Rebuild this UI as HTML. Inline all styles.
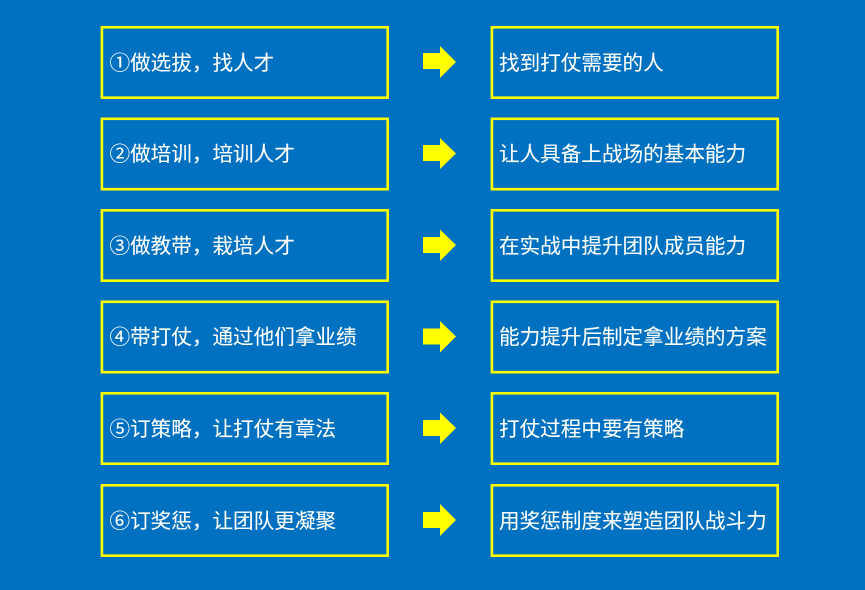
<!DOCTYPE html>
<html lang="zh">
<head>
<meta charset="utf-8">
<style>
html,body{margin:0;padding:0;width:865px;height:590px;overflow:hidden;background:#0070c0;}
.b{position:absolute;box-sizing:border-box;width:289px;height:73px;}
.t{position:absolute;left:9px;top:4px;height:67px;line-height:67px;white-space:nowrap;color:#fff;font-size:20.6px;-webkit-text-stroke:0.1px #fff;font-family:"Liberation Sans","Microsoft YaHei","Noto Sans CJK SC",sans-serif;}
.l{left:100px}.r{left:490px}
.l .t{left:9.5px}
svg{position:absolute;left:0;top:0}
</style>
</head>
<body>
<svg width="865" height="590" viewBox="0 0 865 590">
<g fill="none" stroke="#ffff00" stroke-width="2.6">
<rect x="101.9" y="27.3" width="285.8" height="70.4"/>
<rect x="491.9" y="27.3" width="285.8" height="70.4"/>
<rect x="101.9" y="118.8" width="285.8" height="70.4"/>
<rect x="491.9" y="118.8" width="285.8" height="70.4"/>
<rect x="101.9" y="210.3" width="285.8" height="70.4"/>
<rect x="491.9" y="210.3" width="285.8" height="70.4"/>
<rect x="101.9" y="301.8" width="285.8" height="70.4"/>
<rect x="491.9" y="301.8" width="285.8" height="70.4"/>
<rect x="101.9" y="393.3" width="285.8" height="70.4"/>
<rect x="491.9" y="393.3" width="285.8" height="70.4"/>
<rect x="101.9" y="485.3" width="285.8" height="70.4"/>
<rect x="491.9" y="485.3" width="285.8" height="70.4"/>
</g>
<g fill="#ffff00">
<polygon points="423,53 440,53 440,46 456,62 440,78 440,69 423,69"/>
<polygon points="423,145 440,145 440,138 456,153.500 440,169 440,161 423,161"/>
<polygon points="423,237 440,237 440,229.500 456,245 440,261 440,253 423,253"/>
<polygon points="423,328.500 440,328.500 440,321 456,336.500 440,352.500 440,344.500 423,344.500"/>
<polygon points="423,420 440,420 440,412.500 456,428 440,444 440,436 423,436"/>
<polygon points="423,512 440,512 440,504 456,520 440,536 440,528 423,528"/>
</g>
</svg>
<div class="b l" style="top:26px"><div class="t">①做选拔，找人才</div></div>
<div class="b r" style="top:26px"><div class="t">找到打仗需要的人</div></div>
<div class="b l" style="top:117px"><div class="t">②做培训，培训人才</div></div>
<div class="b r" style="top:117px"><div class="t">让人具备上战场的基本能力</div></div>
<div class="b l" style="top:209px"><div class="t">③做教带，栽培人才</div></div>
<div class="b r" style="top:209px"><div class="t">在实战中提升团队成员能力</div></div>
<div class="b l" style="top:300px"><div class="t">④带打仗，通过他们拿业绩</div></div>
<div class="b r" style="top:300px"><div class="t">能力提升后制定拿业绩的方案</div></div>
<div class="b l" style="top:392px"><div class="t">⑤订策略，让打仗有章法</div></div>
<div class="b r" style="top:392px"><div class="t">打仗过程中要有策略</div></div>
<div class="b l" style="top:484px"><div class="t">⑥订奖惩，让团队更凝聚</div></div>
<div class="b r" style="top:484px"><div class="t">用奖惩制度来塑造团队战斗力</div></div>
</body>
</html>
